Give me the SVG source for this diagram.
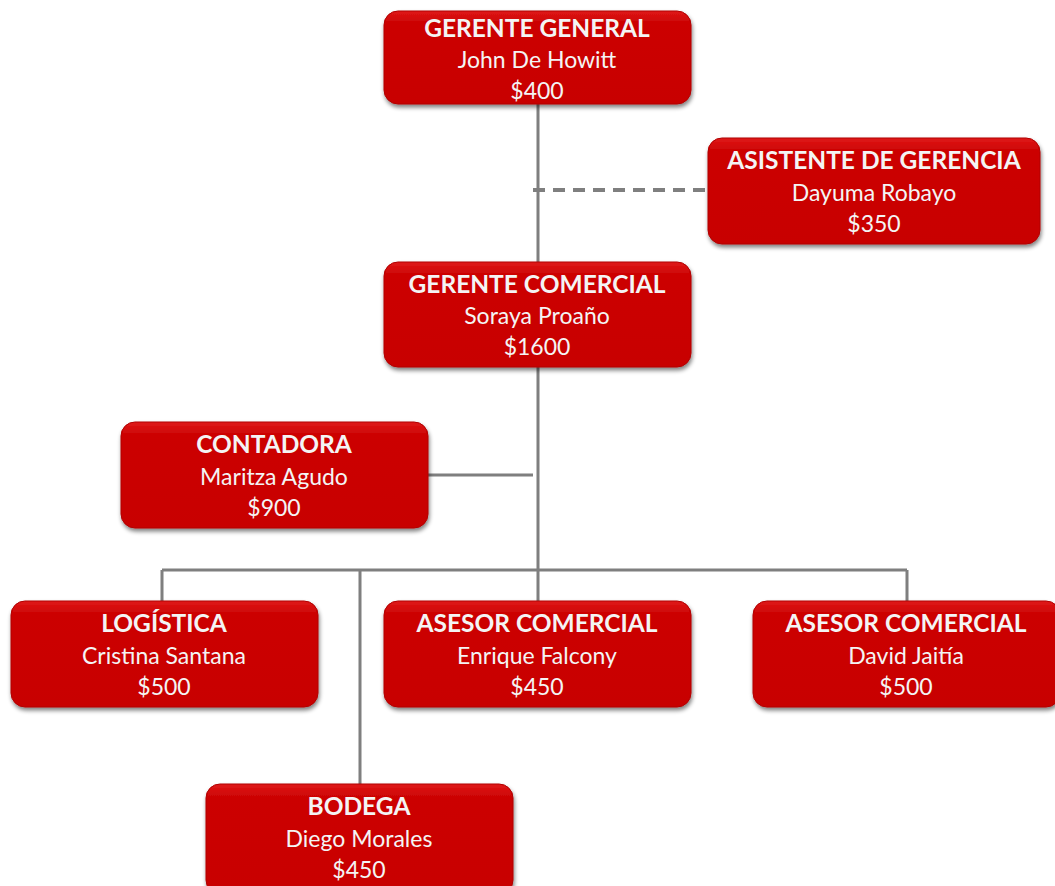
<svg xmlns="http://www.w3.org/2000/svg" width="1055" height="886" viewBox="0 0 1055 886">
<defs>
<linearGradient id="g" x1="0" y1="0" x2="0" y2="1">
<stop offset="0" stop-color="#e01818"/>
<stop offset="0.12" stop-color="#cc0404"/>
<stop offset="1" stop-color="#c80000"/>
</linearGradient>
<filter id="sh" x="-10%" y="-10%" width="120%" height="130%">
<feGaussianBlur in="SourceAlpha" stdDeviation="2"/>
<feOffset dx="1" dy="3" result="b"/>
<feComponentTransfer><feFuncA type="linear" slope="0.5"/></feComponentTransfer>
<feMerge><feMergeNode/><feMergeNode in="SourceGraphic"/></feMerge>
</filter>
</defs>
<style>
.box{fill:url(#g);stroke:#b00000;stroke-width:1;filter:url(#sh)}
.t{font-family:Lato,"Open Sans",sans-serif;font-weight:bold;font-size:24.5px;fill:#f4f4f4;text-anchor:middle}
.n{font-family:Lato,"Open Sans",sans-serif;font-size:23px;fill:#f4f4f4;text-anchor:middle}
.c{stroke:#7f7f7f;stroke-width:3;fill:none}
.d{stroke:#7f7f7f;stroke-width:4;fill:none;stroke-dasharray:12 8}
</style>
<g id="connectors">
<path class="c" d="M538 104V262M538 367V570M428 475H533M162 570H907M162 570V601M360 570V784M538 570V601M907 570V601"/>
<path class="d" d="M533 190H708"/>
</g>
<g id="gerente-general">
<rect class="box" x="384" y="11" width="307" height="93" rx="14"/>
<text class="t" x="537" y="37">GERENTE GENERAL</text>
<text class="n" x="537" y="68">John De Howitt</text>
<text class="n" x="537" y="99">$400</text>
</g>
<g id="asistente">
<rect class="box" x="708" y="138" width="332" height="106" rx="14"/>
<text class="t" x="874" y="169">ASISTENTE DE GERENCIA</text>
<text class="n" x="874" y="201">Dayuma Robayo</text>
<text class="n" x="874" y="232">$350</text>
</g>
<g id="gerente-comercial">
<rect class="box" x="384" y="262" width="307" height="105" rx="14"/>
<text class="t" x="537" y="293">GERENTE COMERCIAL</text>
<text class="n" x="537" y="324">Soraya Proaño</text>
<text class="n" x="537" y="355">$1600</text>
</g>
<g id="contadora">
<rect class="box" x="121" y="422" width="307" height="106" rx="14"/>
<text class="t" x="274" y="453">CONTADORA</text>
<text class="n" x="274" y="485">Maritza Agudo</text>
<text class="n" x="274" y="516">$900</text>
</g>
<g id="logistica">
<rect class="box" x="11" y="601" width="307" height="106" rx="14"/>
<text class="t" x="164" y="632">LOGÍSTICA</text>
<text class="n" x="164" y="664">Cristina Santana</text>
<text class="n" x="164" y="695">$500</text>
</g>
<g id="asesor-1">
<rect class="box" x="384" y="601" width="307" height="106" rx="14"/>
<text class="t" x="537" y="632">ASESOR COMERCIAL</text>
<text class="n" x="537" y="664">Enrique Falcony</text>
<text class="n" x="537" y="695">$450</text>
</g>
<g id="asesor-2">
<rect class="box" x="753" y="601" width="307" height="106" rx="14"/>
<text class="t" x="906" y="632">ASESOR COMERCIAL</text>
<text class="n" x="906" y="664">David Jaitía</text>
<text class="n" x="906" y="695">$500</text>
</g>
<g id="bodega">
<rect class="box" x="206" y="784" width="307" height="110" rx="14"/>
<text class="t" x="359" y="815">BODEGA</text>
<text class="n" x="359" y="847">Diego Morales</text>
<text class="n" x="359" y="878">$450</text>
</g>
</svg>
